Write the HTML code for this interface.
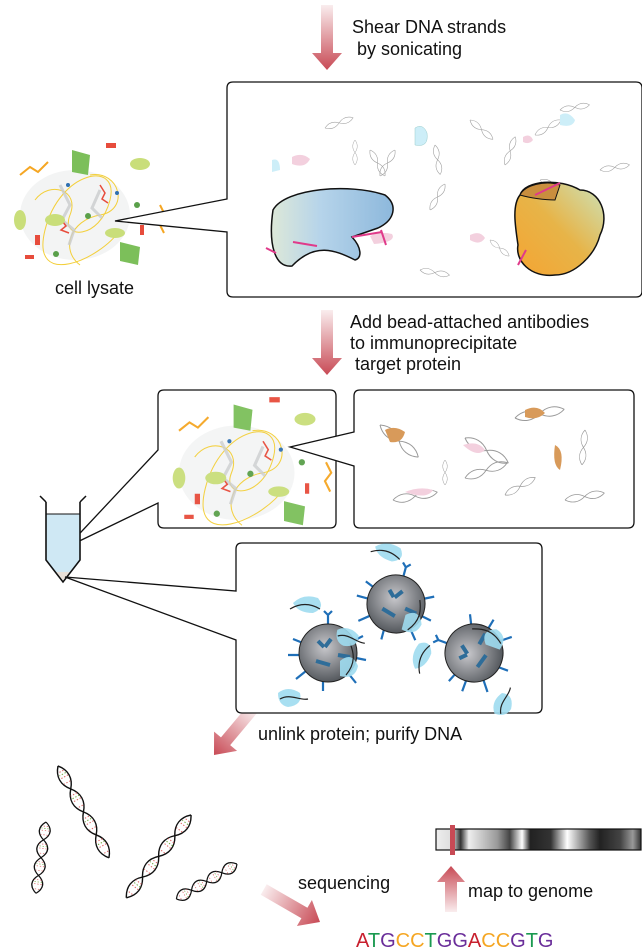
<!DOCTYPE html>
<html><head><meta charset="utf-8"><style>
html,body{margin:0;padding:0;background:#fff}
svg{display:block}
text{font-family:"Liberation Sans","DejaVu Sans",sans-serif;font-size:18px;fill:#111}
</style></head><body>
<svg width="642" height="950" viewBox="0 0 642 950" xmlns="http://www.w3.org/2000/svg">
<defs>
<linearGradient id="ad" x1="0" y1="0" x2="0" y2="1"><stop offset="0" stop-color="#c84a55" stop-opacity="0.1"/><stop offset="1" stop-color="#c84a55"/></linearGradient>
<linearGradient id="au" x1="0" y1="1" x2="0" y2="0"><stop offset="0" stop-color="#c84a55" stop-opacity="0.1"/><stop offset="1" stop-color="#c84a55"/></linearGradient>
<radialGradient id="bead" cx="0.45" cy="0.4" r="0.6"><stop offset="0" stop-color="#c8c8cc"/><stop offset="1" stop-color="#55595e"/></radialGradient>
<linearGradient id="blue" x1="0" y1="0" x2="1" y2="0"><stop offset="0" stop-color="#dde8d8"/><stop offset="0.4" stop-color="#b6d4ea"/><stop offset="1" stop-color="#8db8dc"/></linearGradient>
<linearGradient id="orng" x1="0" y1="1" x2="1" y2="0"><stop offset="0" stop-color="#f5a432"/><stop offset="0.5" stop-color="#e7b448"/><stop offset="1" stop-color="#cbe3bb"/></linearGradient>
<linearGradient id="chr" x1="0" y1="0" x2="1" y2="0">
<stop offset="0" stop-color="#eee"/><stop offset="0.08" stop-color="#ddd"/><stop offset="0.12" stop-color="#333"/><stop offset="0.16" stop-color="#eee"/><stop offset="0.3" stop-color="#999"/><stop offset="0.36" stop-color="#444"/><stop offset="0.42" stop-color="#fff"/><stop offset="0.46" stop-color="#222"/><stop offset="0.56" stop-color="#333"/><stop offset="0.64" stop-color="#fff"/><stop offset="0.75" stop-color="#555"/><stop offset="0.8" stop-color="#222"/><stop offset="0.9" stop-color="#444"/><stop offset="0.96" stop-color="#999"/><stop offset="1" stop-color="#333"/></linearGradient>
<g id="hx">
<path d="M0,0 C8,-8 17,-8 25,0 S42,8 50,0 S67,-8 75,0 S92,8 100,0" fill="none" stroke="#111" stroke-width="1.5"/>
<path d="M0,0 C8,8 17,8 25,0 S42,-8 50,0 S67,8 75,0 S92,-8 100,0" fill="none" stroke="#111" stroke-width="1.5"/>
<path d="M6,-3v6M12,-5v10M18,-4v8M31,-4v8M37,-5v10M44,-3v6M56,-3v6M62,-5v10M68,-4v8M81,-4v8M87,-5v10M94,-3v6" stroke="#d66" stroke-width="1" stroke-dasharray="1.5 2"/>
<path d="M9,-4v8M34,-5v10M59,-4v8M84,-5v10" stroke="#7a4" stroke-width="1" stroke-dasharray="1.5 2"/>
</g>
<g id="hs"><path d="M0,0 C8,-6 17,-6 25,0 S42,6 50,0" fill="none" stroke="#999" stroke-width="1"/><path d="M0,0 C8,6 17,6 25,0 S42,-6 50,0" fill="none" stroke="#999" stroke-width="1"/></g>
<g id="b1">
<path d="M0,-28 v-10 M-4,-42 l4,4 4,-4 M-25,-10 l-10,-4 M25,-12 l10,-5 M-22,18 l-10,8 M20,20 l8,10 M-5,28 v10 M28,5 l10,2 M-28,2 l-12,0" stroke="#1f6fb8" stroke-width="2.2" fill="none"/>
<circle r="29" fill="url(#bead)" stroke="#222" stroke-width="1"/>
<path d="M-10,-12 l6,6 M3,-14 l-6,8 M-12,8 l14,4 M10,2 l12,2" stroke="#2f6d99" stroke-width="4"/>
<path d="M12,8 q12,-10 18,5 q-3,14 -18,10z" fill="#9fdcf0" opacity="0.9"/>
<path d="M-35,-50 q10,-10 25,-5 q8,10 -5,15 q-15,0 -20,-10z" fill="#9fdcf0" opacity="0.9"/>
<path d="M-50,40 q10,-8 22,0 q3,12 -12,14 q-10,-2 -10,-14z" fill="#9fdcf0" opacity="0.9"/>
<path d="M-38,-44 c10,-6 20,-6 30,0 M22,-10 c4,10 6,20 -4,32 M-48,46 c10,-6 20,2 28,0" stroke="#222" stroke-width="1.2" fill="none"/>
</g>
</defs>

<!-- arrows -->
<path d="M321,5h12v48h9l-15,17-15-17h9z" fill="url(#ad)"/>
<path d="M321,310h12v48h9l-15,17-15-17h9z" fill="url(#ad)"/>
<g transform="translate(214,755) rotate(40)"><path d="M-6,-60h12v42h9l-15,18-15-18h9z" fill="url(#ad)"/></g>
<g transform="translate(320,922) rotate(-60)"><path d="M-6,-65h12v47h9l-15,18-15-18h9z" fill="url(#ad)"/></g>
<path d="M445,912v-30h-8l14,-16 14,16h-8v30z" fill="url(#au)"/>

<!-- texts -->
<text x="352" y="33">Shear DNA strands</text>
<text x="352" y="55">&#160;by sonicating</text>
<text x="55" y="294">cell lysate</text>
<text x="350" y="328">Add bead-attached antibodies</text>
<text x="350" y="349">to immunoprecipitate</text>
<text x="350" y="370">&#160;target protein</text>
<text x="252" y="567">precipitate</text>
<text x="258" y="740">unlink protein; purify DNA</text>
<text x="298" y="889">sequencing</text>
<text x="468" y="897">map to genome</text>
<text x="356" y="947" style="font-size:20px"><tspan fill="#c8202e">A</tspan><tspan fill="#1a9a50">T</tspan><tspan fill="#6a2e9a">G</tspan><tspan fill="#f5a623">C</tspan><tspan fill="#f5a623">C</tspan><tspan fill="#1a9a50">T</tspan><tspan fill="#6a2e9a">G</tspan><tspan fill="#6a2e9a">G</tspan><tspan fill="#c8202e">A</tspan><tspan fill="#f5a623">C</tspan><tspan fill="#f5a623">C</tspan><tspan fill="#6a2e9a">G</tspan><tspan fill="#1a9a50">T</tspan><tspan fill="#6a2e9a">G</tspan></text>

<!-- chromosome -->
<rect x="436" y="829" width="205" height="21" fill="url(#chr)" stroke="#111" stroke-width="1.2"/>
<rect x="450" y="825" width="5" height="30" fill="#c84a55"/>

<!-- lysate cluster -->
<g id="lys">
<ellipse cx="75" cy="215" rx="55" ry="45" fill="#eef0f0" opacity="0.7"/>
<path d="M35,200 C50,180 80,190 70,215 S100,240 110,200 S60,170 45,230 S100,260 120,230" fill="none" stroke="#f3cf3a" stroke-width="1"/>
<path d="M90,175 C120,170 130,210 100,215 S60,250 80,265" fill="none" stroke="#f3cf3a" stroke-width="1"/>
<path d="M60,185 l10,20 -8,15 12,10 -5,15 M100,190 l-8,18 10,10" stroke="#c9cccd" stroke-width="3" fill="none" opacity="0.8"/>
<path d="M20,175 l10,-8 8,5 10,-10" stroke="#f5a623" stroke-width="2" fill="none"/>
<path d="M160,205 l5,10 -6,8 5,10" stroke="#f5a623" stroke-width="2" fill="none"/>
<path d="M100,185 l5,8 -3,6 6,4" stroke="#e74c3c" stroke-width="1.5" fill="none"/>
<path d="M60,218 l6,8 -5,4 8,3" stroke="#e74c3c" stroke-width="1.5" fill="none"/>
<path d="M72,150 l18,5 -2,20 -16,-3z" fill="#7cbf5a"/>
<path d="M120,242 l20,5 -2,18 -18,-4z" fill="#7cbf5a"/>
<ellipse cx="140" cy="164" rx="10" ry="6" fill="#c9de7a"/>
<ellipse cx="20" cy="220" rx="6" ry="10" fill="#c9de7a"/>
<ellipse cx="115" cy="233" rx="10" ry="5" fill="#c9de7a"/>
<ellipse cx="55" cy="220" rx="10" ry="6" fill="#c9de7a"/>
<rect x="106" y="143" width="10" height="5" fill="#e74c3c"/><rect x="35" y="235" width="5" height="10" fill="#e74c3c"/><rect x="140" y="225" width="4" height="10" fill="#e74c3c"/><rect x="25" y="255" width="9" height="4" fill="#e74c3c"/>
<circle cx="68" cy="185" r="2" fill="#2e6fb0"/><circle cx="117" cy="193" r="2" fill="#2e6fb0"/><circle cx="88" cy="216" r="3" fill="#5aa04a"/><circle cx="56" cy="254" r="3" fill="#5aa04a"/><circle cx="137" cy="205" r="3" fill="#5aa04a"/>
</g>

<!-- top callout box -->
<path d="M115,221 L227,199 V88 Q227,82 233,82 H636 Q642,82 642,88 V291 Q642,297 636,297 H233 Q227,297 227,291 V232 Z" fill="#fff" stroke="#111" stroke-width="1.3"/>
<g opacity="0.9">
<use href="#hs" transform="translate(325,128) rotate(-20) scale(0.6)"/>
<use href="#hs" transform="translate(370,150) rotate(60) scale(0.6)"/>
<use href="#hs" transform="translate(435,145) rotate(80) scale(0.6)"/>
<use href="#hs" transform="translate(470,120) rotate(40) scale(0.6)"/>
<use href="#hs" transform="translate(505,165) rotate(-70) scale(0.6)"/>
<use href="#hs" transform="translate(535,135) rotate(-30) scale(0.6)"/>
<use href="#hs" transform="translate(540,180) rotate(20) scale(0.6)"/>
<use href="#hs" transform="translate(560,110) rotate(-10) scale(0.6)"/>
<use href="#hs" transform="translate(430,210) rotate(-60) scale(0.6)"/>
<use href="#hs" transform="translate(490,240) rotate(40) scale(0.5)"/>
<use href="#hs" transform="translate(420,270) rotate(10) scale(0.6)"/>
<use href="#hs" transform="translate(395,150) rotate(120) scale(0.6)"/>
<use href="#hs" transform="translate(355,165) rotate(-90) scale(0.5)"/>
<use href="#hs" transform="translate(600,170) rotate(-10) scale(0.6)"/>
</g>
<path d="M415,128 q8,-5 12,5 q2,15 -12,12z" fill="#cdeef8" stroke="#9cc" stroke-width="0.5"/>
<path d="M560,115 q8,-5 15,5 q-2,8 -15,5z" fill="#cdeef8"/>
<path d="M272,160 q8,-3 8,10 l-8,2z" fill="#cdeef8"/>
<path d="M292,157 q10,-5 18,2 q-5,10 -18,5z" fill="#f3d0de"/>
<path d="M470,235 q10,-5 15,3 q-5,8 -15,2z" fill="#f3d0de"/>
<path d="M523,137 q7,-4 10,3 q-4,5 -10,2z" fill="#f3d0de"/>
<path d="M370,236 q10,-5 22,-2 q5,8 -18,10z" fill="#f3d0de"/>
<path d="M273,210 C285,188 350,183 385,195 C398,205 395,220 378,228 L352,237 C362,248 362,258 355,260 C335,250 315,242 292,266 C275,268 268,245 273,210Z" fill="url(#blue)" stroke="#111" stroke-width="1.5"/>
<path d="M293,242l24,4 M352,237l30,-5 M381,230l5,15 M266,248l10,5" stroke="#e03a8a" stroke-width="2"/>
<path d="M520,195 C525,180 560,178 580,190 C600,190 610,215 600,235 C595,255 575,275 555,275 C530,278 515,260 518,245 C515,225 512,205 520,195Z" fill="url(#orng)" stroke="#111" stroke-width="1.5"/>
<path d="M520,195 C525,185 545,180 560,185 L555,200 C545,200 530,198 520,195Z" fill="#c98e3e" stroke="#111" stroke-width="1"/>
<path d="M535,195l25,-12 M518,265l8,-15" stroke="#e03a8a" stroke-width="2"/>

<!-- middle left box -->
<path d="M67,547 L158,450 V396 Q158,390 164,390 H330 Q336,390 336,396 V522 Q336,528 330,528 H164 Q158,528 158,522 V503 Z" fill="#fff" stroke="#111" stroke-width="1.3"/>
<use href="#lys" transform="translate(158,247) scale(1.05)" opacity="0.95"/>
<!-- right box -->
<path d="M290,447 L354,432 V396 Q354,390 360,390 H628 Q634,390 634,396 V522 Q634,528 628,528 H360 Q354,528 354,522 V466 Z" fill="#fff" stroke="#111" stroke-width="1.3"/>
<use href="#hs" transform="translate(380,425) rotate(40)"/>
<use href="#hs" transform="translate(465,438) rotate(30)"/>
<use href="#hs" transform="translate(515,418) rotate(-10)"/>
<use href="#hs" transform="translate(585,430) rotate(95) scale(0.7)"/>
<use href="#hs" transform="translate(465,478) rotate(-20) scale(0.9)"/>
<use href="#hs" transform="translate(505,495) rotate(-30) scale(0.7)"/>
<use href="#hs" transform="translate(565,500) rotate(-10) scale(0.8)"/>
<use href="#hs" transform="translate(393,500) rotate(-10) scale(0.9)"/>
<use href="#hs" transform="translate(445,460) rotate(90) scale(0.5)"/>
<path d="M385,430 q10,-5 20,2 q-3,12 -15,10z" fill="#d89a5a"/>
<path d="M525,410 q12,-6 20,3 q-8,8 -20,4z" fill="#d89a5a"/>
<path d="M555,445 q10,5 5,25 q-8,-5 -5,-25z" fill="#d89a5a"/>
<path d="M463,445 q15,-5 22,5 q-8,8 -22,-5z" fill="#f3d0de"/>
<path d="M405,492 q15,-6 28,-2 q-6,10 -28,2z" fill="#f3d0de"/>

<!-- tube -->
<path d="M40,496 l6,6 M86,496 l-6,6" stroke="#111" stroke-width="1.5"/>
<path d="M46,514 H80 V560 L70,572 H56 L46,560Z" fill="#cfe8f4"/>
<path d="M56,572 H70 L63,580Z" fill="#e8e0d8"/>
<path d="M46,502 V560 L63,582 L80,560 V502" fill="none" stroke="#111" stroke-width="1.6"/>
<path d="M46,514H80" stroke="#111" stroke-width="1"/>

<!-- precipitate box -->
<path d="M65,577 L236,591 V549 Q236,543 242,543 H536 Q542,543 542,549 V707 Q542,713 536,713 H242 Q236,713 236,707 V640 Z" fill="#fff" stroke="#111" stroke-width="1.3"/>

<!-- beads -->
<use href="#b1" transform="translate(328,653)"/>
<use href="#b1" transform="translate(396,604) rotate(15)"/>
<use href="#b1" transform="translate(474,653) rotate(-70)"/>

<!-- free DNA -->
<use href="#hx" transform="translate(58,766) rotate(61) scale(1.05,0.9)"/>
<use href="#hx" transform="translate(46,822) rotate(98) scale(0.72,0.9)"/>
<use href="#hx" transform="translate(191,815) rotate(128) scale(1.05,0.9)"/>
<use href="#hx" transform="translate(237,864) rotate(150) scale(0.7,0.9)"/>
</svg>
</body></html>
